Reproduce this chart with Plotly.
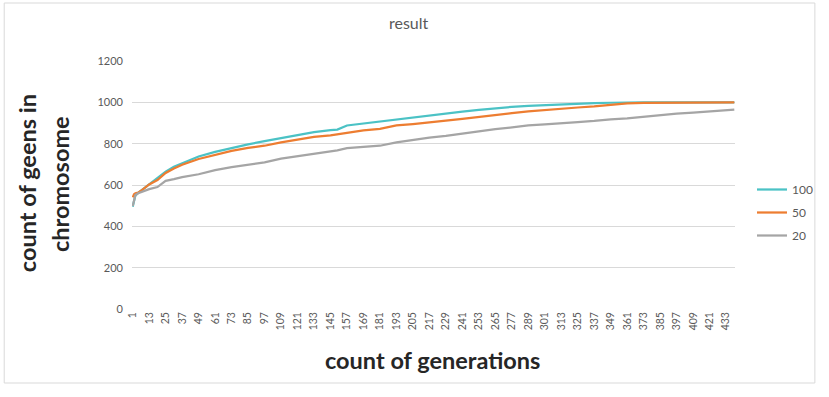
import plotly.graph_objects as go

generations = [1, 2, 3, 5, 7, 10, 13, 19, 25, 31, 37, 49, 61, 73, 85, 97, 109, 121, 133, 145,
               150, 157, 169, 181, 193, 205, 217, 229, 241, 253, 265, 277, 289, 301, 313, 325,
               337, 349, 361, 373, 385, 397, 409, 421, 433, 439]

s100 = [495, 530, 550, 562, 572, 588, 605, 632, 665, 688, 705, 738, 760, 780, 797, 812, 826, 840, 856, 866,
        868, 888, 898, 908, 918, 928, 937, 945, 955, 963, 972, 978, 983, 987, 991, 994,
        996, 998, 1000, 1000, 1000, 1000, 1000, 1000, 1000, 1000]
s50 = [540, 555, 560, 563, 572, 587, 603, 624, 658, 680, 698, 726, 747, 765, 780, 790, 806, 818, 833, 840,
       845, 855, 864, 872, 888, 895, 902, 912, 920, 930, 940, 948, 956, 963, 970, 975,
       980, 988, 995, 997, 998, 999, 1000, 1000, 1000, 1000]
s20 = [498, 535, 552, 560, 566, 575, 580, 590, 620, 628, 638, 652, 672, 686, 698, 710, 728, 740, 752, 762,
       768, 778, 784, 790, 806, 818, 829, 838, 850, 860, 870, 880, 888, 893, 900, 904,
       910, 918, 922, 930, 936, 945, 950, 955, 960, 965]

series_names = ["100", "50", "20"]
series_colors = ["#4BC2C5", "#ED7D31", "#A5A5A5"]

x_tickvals = list(range(1, 434, 12))
x_ticktext = [str(v) for v in x_tickvals]
y_tickvals = [0, 200, 400, 600, 800, 1000, 1200]

W, H = 829, 397
L, R, T, B = 132, 93, 61, 88
PW, PH = W - L - R, H - T - B


def px(xpix):
    return (xpix - L) / PW


def py(ypix):
    return (H - B - ypix) / PH


fig = go.Figure()
for name, vals, col in zip(series_names, [s100, s50, s20], series_colors):
    fig.add_trace(go.Scatter(x=generations, y=vals, mode="lines", name=name,
                             legendgroup=name,
                             line=dict(color=col, width=2.25)))

fig.update_layout(
    width=W, height=H,
    margin=dict(l=L, r=R, t=T, b=B),
    paper_bgcolor="white", plot_bgcolor="white",
    font=dict(family="Lato, Liberation Sans, sans-serif", color="#595959"),
    showlegend=True,
    legend=dict(x=px(752), y=py(175), xanchor="left", yanchor="top",
                font=dict(size=12, color="#595959"), tracegroupgap=4,
                bgcolor="rgba(0,0,0,0)"),
    xaxis=dict(range=[0.5, 439.5], tickmode="array", tickvals=x_tickvals, ticktext=x_ticktext,
               tickangle=-90, tickfont=dict(size=10.5, color="#595959"), showgrid=False,
               zeroline=False, showline=False, ticks=""),
    yaxis=dict(range=[0, 1200], tickmode="array", tickvals=y_tickvals,
               tickfont=dict(size=11, color="#595959"), showgrid=True, gridcolor="#D9D9D9",
               gridwidth=1, zeroline=False, showline=False, ticks="", ticklabelstandoff=8),
    shapes=[dict(type="rect", xref="paper", yref="paper", x0=px(4), x1=px(816), y0=py(383), y1=py(3),
                 line=dict(color="#D9D9D9", width=1), fillcolor="rgba(0,0,0,0)", layer="below")],
    annotations=[
        dict(text="result", xref="paper", yref="paper", x=px(409), y=py(22), showarrow=False,
             font=dict(size=16, color="#595959"), xanchor="center", yanchor="middle"),
        dict(text="<b>count of generations</b>", xref="paper", yref="paper", x=px(433), y=py(360),
             showarrow=False, font=dict(size=23.5, color="#262626", family="Lato"),
             xanchor="center", yanchor="middle"),
        dict(text="<b>count of geens in</b>", xref="paper", yref="paper", x=px(27), y=py(183),
             showarrow=False, textangle=-90, font=dict(size=23.5, color="#262626", family="Lato"),
             xanchor="center", yanchor="middle"),
        dict(text="<b>chromosome</b>", xref="paper", yref="paper", x=px(60), y=py(184),
             showarrow=False, textangle=-90, font=dict(size=23.5, color="#262626", family="Lato"),
             xanchor="center", yanchor="middle"),
    ],
)

fig.write_html("out.html", config={"displayModeBar": False},
               post_script="document.body.style.margin='0';")
